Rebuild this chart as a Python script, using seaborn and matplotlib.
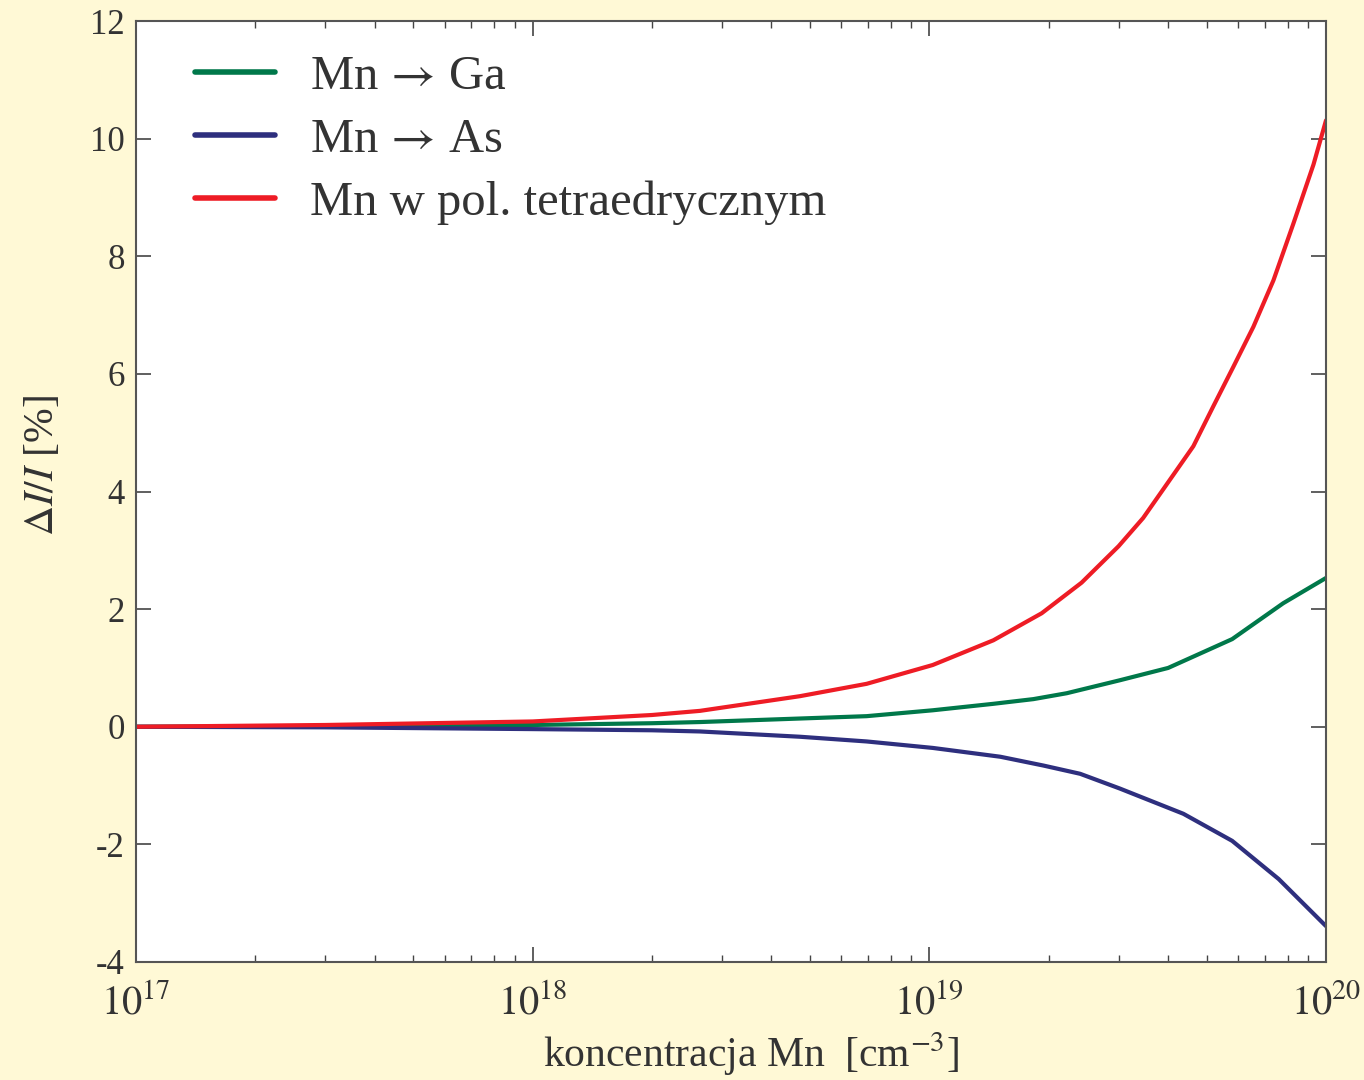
import numpy as np
import pandas as pd
import matplotlib
matplotlib.use("Agg")
import matplotlib.pyplot as plt
import seaborn as sns
from matplotlib.ticker import LogLocator, NullFormatter

# ---- data ----
x_ga = [1e17, 3e17, 1e18, 2e18, 2.64e18, 4.72e18, 6.95e18, 1.02e19, 1.45e19, 1.83e19,
        2.22e19, 3.02e19, 4.0e19, 5.8e19, 7.8e19, 1e20]
y_ga = [0.0, 0.01, 0.03, 0.06, 0.08, 0.14, 0.18, 0.28, 0.39, 0.47,
        0.57, 0.79, 1.0, 1.49, 2.1, 2.53]

x_as = [1e17, 3e17, 1e18, 2e18, 2.64e18, 4.72e18, 6.95e18, 1.02e19, 1.51e19, 1.94e19,
        2.4e19, 3.02e19, 4.37e19, 5.8e19, 7.6e19, 1e20]
y_as = [0.0, -0.01, -0.04, -0.06, -0.08, -0.17, -0.25, -0.36, -0.51, -0.66,
        -0.80, -1.05, -1.48, -1.94, -2.59, -3.39]

x_tet = [1e17, 3e17, 1e18, 2e18, 2.64e18, 4.72e18, 6.95e18, 1.02e19, 1.45e19, 1.92e19,
         2.42e19, 3.0e19, 3.46e19, 3.89e19, 4.63e19, 5.2e19, 5.84e19, 6.56e19,
         7.37e19, 8.27e19, 9.3e19, 1e20]
y_tet = [0.0, 0.03, 0.09, 0.2, 0.27, 0.52, 0.73, 1.05, 1.47, 1.93,
         2.45, 3.07, 3.55, 4.04, 4.77, 5.45, 6.12, 6.80,
         7.59, 8.55, 9.56, 10.31]

series_names = [r"Mn$\,\rightarrow\,$Ga", r"Mn$\,\rightarrow\,$As", "Mn w pol. tetraedrycznym"]
colors = ["#00784A", "#2E2F7E", "#EE1C25"]

xticks = [1e17, 1e18, 1e19, 1e20]
xtick_labels = [r"$10^{17}$", r"$10^{18}$", r"$10^{19}$", r"$10^{20}$"]
yticks = [-4, -2, 0, 2, 4, 6, 8, 10, 12]
ytick_labels = ["-4", "-2", "0", "2", "4", "6", "8", "10", "12"]

df = pd.concat([
    pd.DataFrame({"x": x_ga, "y": y_ga, "s": series_names[0]}),
    pd.DataFrame({"x": x_as, "y": y_as, "s": series_names[1]}),
    pd.DataFrame({"x": x_tet, "y": y_tet, "s": series_names[2]}),
])

sns.set_theme(style="ticks")
plt.rcParams["font.family"] = ["Liberation Serif", "DejaVu Serif"]
plt.rcParams["mathtext.fontset"] = "stix"

text_color = "#333333"
bg = "#FFF9D6"

fig = plt.figure(figsize=(13.64, 10.8), dpi=100, facecolor=bg)
ax = fig.add_axes([136/1364, 1 - 962/1080, (1326-136)/1364, (962-21)/1080])
ax.set_facecolor("white")

sns.lineplot(data=df, x="x", y="y", hue="s", palette=dict(zip(series_names, colors)),
             hue_order=series_names, linewidth=3.0, sort=False, estimator=None, ax=ax)

ax.set_xscale("log")
ax.set_xlim(1e17, 1e20)
ax.set_ylim(-4, 12)
ax.set_xticks(xticks)
ax.set_xticklabels(xtick_labels, fontsize=29, color=text_color)
ax.xaxis.set_minor_locator(LogLocator(base=10, subs=np.arange(2, 10)))
ax.xaxis.set_minor_formatter(NullFormatter())
ax.set_yticks(yticks)
ax.set_yticklabels(ytick_labels, fontsize=25, color=text_color)

ax.tick_params(axis="both", which="major", direction="in", length=11, width=1.2,
               color="#444444", top=True, right=True)
ax.tick_params(axis="x", which="major", pad=16)
ax.tick_params(axis="y", which="major", pad=8)
ax.tick_params(axis="x", which="minor", direction="in", length=5, width=1.0,
               color="#444444", top=True, bottom=True)
for sp in ax.spines.values():
    sp.set_color("#555555")
    sp.set_linewidth(1.5)

ax.set_xlabel(r"koncentracja Mn  [cm$^{-3}$]", fontsize=30, color=text_color)
ax.xaxis.set_label_coords(0.517, -0.073)
ax.set_ylabel(r"$\Delta I/I$ [%]", fontsize=30, color=text_color)
ax.yaxis.set_label_coords(-0.062, 0.528)

leg = ax.legend(loc="upper left", bbox_to_anchor=(0.021, 1.0), frameon=False,
                fontsize=35, handlelength=1.65, handletextpad=0.72, labelspacing=0.38,
                borderaxespad=0.3)
for t in leg.get_texts():
    t.set_color(text_color)
for h in leg.legend_handles:
    h.set_linewidth(4.0)

fig.savefig("out.png", dpi=100, facecolor=bg)
